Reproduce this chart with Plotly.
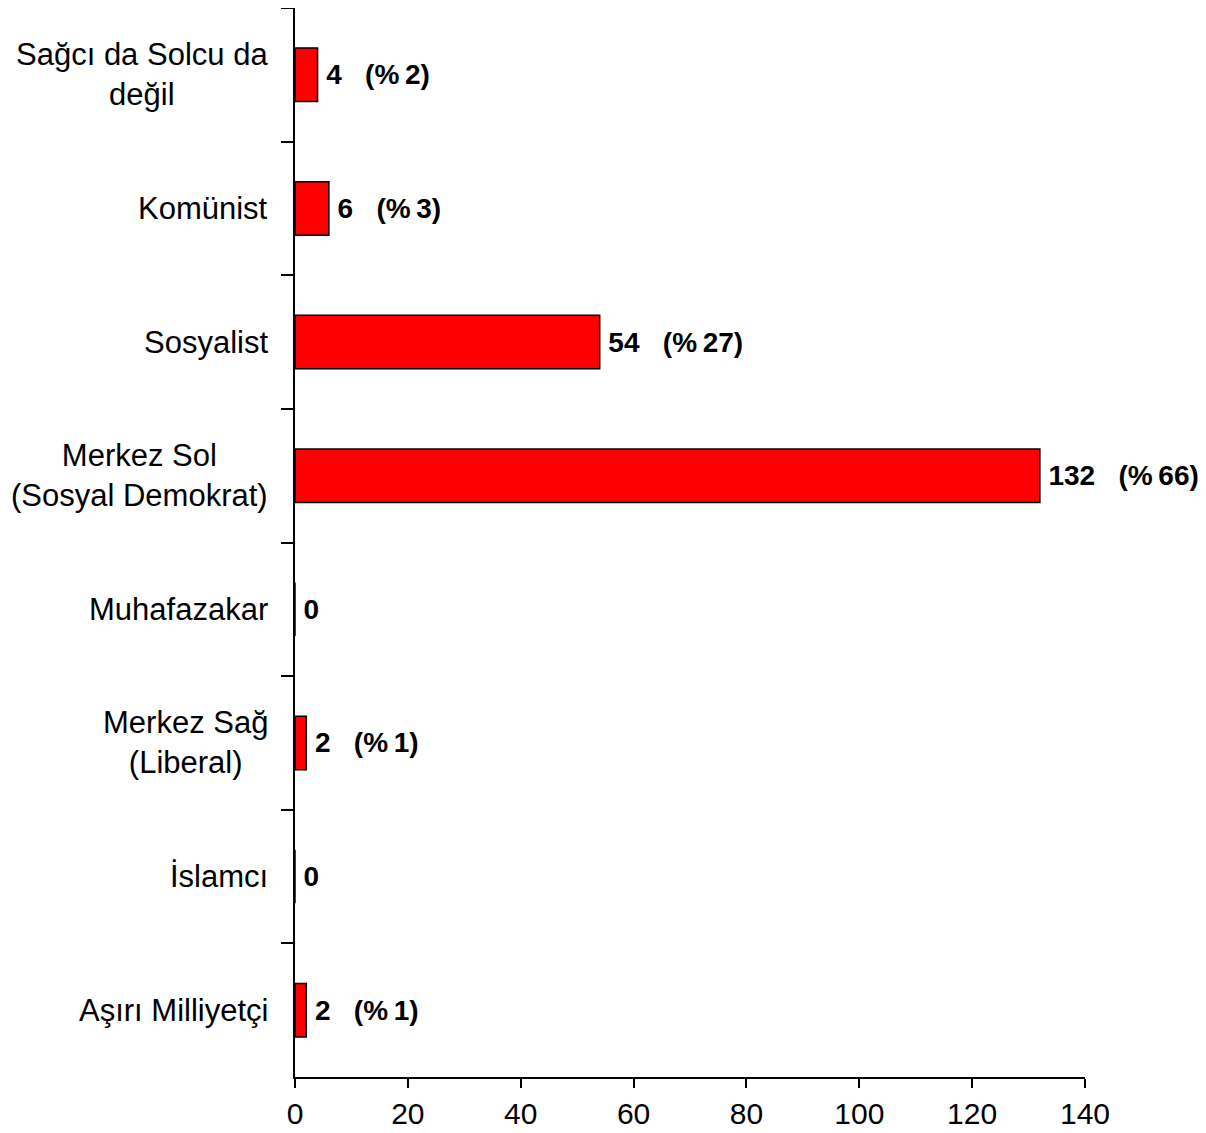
import plotly.graph_objects as go

categories = ["Sağcı da Solcu da<br>değil", "Komünist", "Sosyalist",
              "Merkez Sol<br>(Sosyal Demokrat)", "Muhafazakar",
              "Merkez Sağ<br>(Liberal)", "İslamcı", "Aşırı Milliyetçi"]
counts = [4, 6, 54, 132, 0, 2, 0, 2]
percents = [2, 3, 27, 66, None, 1, None, 1]
x_ticks = [0, 20, 40, 60, 80, 100, 120, 140]

FONT = "Liberation Sans, Arial, sans-serif"
NB = "\u00a0"
TH = "\u2009"

labels = []
for c, p in zip(counts, percents):
    if p is None:
        labels.append(f"<b>{TH}{c}</b>")
    else:
        labels.append(f"<b>{TH}{c}{NB*3}(%{TH}{p})</b>")

fig = go.Figure()
fig.add_trace(go.Bar(
    y=categories, x=counts, orientation="h",
    width=0.4,
    marker=dict(color="#FF0000", line=dict(color="black", width=1.5)),
    text=labels, textposition="outside", cliponaxis=False,
    textfont=dict(family=FONT, size=28, color="black"),
    showlegend=False,
))

for cat in categories:
    fig.add_annotation(
        x=0, xref="paper", y=cat, yref="y", xanchor="right", yanchor="middle",
        xshift=-25, text=cat, align="center", showarrow=False,
        font=dict(family=FONT, size=31, color="black"),
    )

fig.update_layout(
    width=1198, height=1125,
    margin=dict(l=287, r=121, t=0, b=56),
    plot_bgcolor="white", paper_bgcolor="white",
    font=dict(family=FONT, size=30, color="black"),
    bargap=0.6,
)
fig.update_xaxes(
    range=[0, 140], tickvals=x_ticks, ticks="outside", ticklen=9, tickwidth=1.5,
    tickcolor="black", showline=True, linecolor="black", linewidth=1.5,
    showgrid=False, zeroline=False, tickfont=dict(family=FONT, size=30),
)
fig.update_yaxes(
    categoryorder="array", categoryarray=categories, autorange="reversed",
    showticklabels=False, ticks="outside", tickson="boundaries", ticklen=12,
    tickwidth=1.5, tickcolor="black", showline=True, linecolor="black",
    linewidth=1.5, showgrid=False, zeroline=False,
)

fig.write_html("out.html")
